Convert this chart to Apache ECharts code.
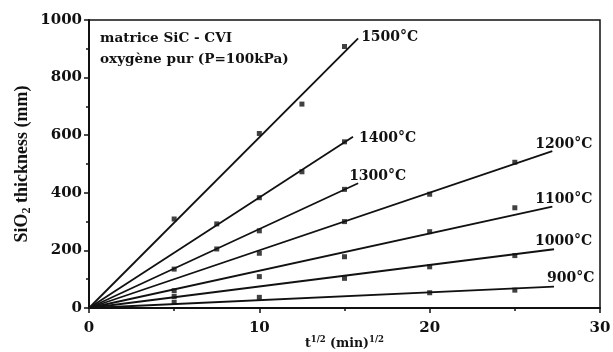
<!DOCTYPE html>
<html>
<head>
<meta charset="utf-8">
<script src="https://cdn.jsdelivr.net/npm/echarts@6/dist/echarts.min.js"></script>
<style>
html, body { margin: 0; padding: 0; background: #fff; }
#chart { width: 613px; height: 352px; }
</style>
</head>
<body>
<div id="chart"></div>
<script>
// temperatures (series names)
var temps = ['1500°C', '1400°C', '1300°C', '1200°C', '1100°C', '1000°C', '900°C'];

// measured points, x = t^1/2, y = SiO2 thickness
var p1500x = [5, 10, 12.5, 15];
var p1500y = [309, 606, 708, 908];
var p1400x = [7.5, 10, 12.5, 15];
var p1400y = [292, 383, 473, 577];
var p1300x = [5, 7.5, 10, 15];
var p1300y = [135, 205, 268, 412];
var p1200x = [10, 15, 20, 25];
var p1200y = [190, 300, 395, 506];
var p1100x = [5, 10, 15, 20, 25];
var p1100y = [60, 109, 178, 265, 348];
var p1000x = [5, 15, 20, 25];
var p1000y = [40, 103, 143, 182];
var p900x = [5, 10, 20, 25];
var p900y = [20, 37, 53, 62];

// fitted lines, from origin to end point
var fitEndX = [15.8, 15.5, 15.8, 27.2, 27.2, 27.3, 27.3];
var fitEndY = [936, 595, 433, 545, 352, 204, 74];

// axis ticks
var xTicks = [0, 10, 20, 30];
var yTicks = [0, 200, 400, 600, 800, 1000];

var pointsX = [p1500x, p1400x, p1300x, p1200x, p1100x, p1000x, p900x];
var pointsY = [p1500y, p1400y, p1300y, p1200y, p1100y, p1000y, p900y];

// label nudges (style only)
var labelShift = [[-2, -1], [1, 2], [-14, -7], [-22, -7], [-22, -7], [-24, -8], [-12, -8]];

var wideFont = 'DejaVu Serif';
var narrowFont = 'Liberation Serif';

var chart = echarts.init(document.getElementById('chart'));

var series = [];
for (var i = 0; i < temps.length; i++) {
    var pts = [];
    for (var j = 0; j < pointsX[i].length; j++) {
        pts.push([pointsX[i][j], pointsY[i][j]]);
    }
    series.push({
        name: temps[i] + ' pts',
        type: 'scatter',
        data: pts,
        symbol: 'rect',
        symbolSize: 5,
        itemStyle: { color: '#111' },
        z: 3
    });
    series.push({
        name: temps[i],
        type: 'line',
        data: [
            [0, 0],
            {
                value: [fitEndX[i], fitEndY[i]],
                label: {
                    show: true,
                    position: 'right',
                    distance: 5,
                    offset: labelShift[i],
                    formatter: temps[i],
                    color: '#111',
                    fontFamily: wideFont,
                    fontWeight: 'bold',
                    fontSize: 14
                }
            }
        ],
        showSymbol: true,
        symbol: 'circle',
        symbolSize: 0,
        lineStyle: { color: '#111', width: 1.8 },
        itemStyle: { color: '#111' },
        silent: true,
        z: 2
    });
}

var option = {
    animation: false,
    backgroundColor: '#fff',
    grid: {
        left: 89, right: 13, top: 20, bottom: 44,
        outerBoundsMode: 'none',
        containLabel: false,
        show: true,
        borderColor: '#111',
        borderWidth: 1.5
    },
    graphic: [{
        type: 'text',
        left: 100,
        top: 28,
        style: {
            text: 'matrice SiC - CVI\noxygène pur (P=100kPa)',
            fill: '#111',
            font: 'bold 13.6px "DejaVu Serif"',
            lineHeight: 21
        }
    }],
    xAxis: {
        type: 'value',
        min: 0, max: 30, interval: 10,
        name: '{b|t}{s|1/2}{b| (min)}{s|1/2}',
        nameLocation: 'middle',
        nameGap: 27,
        nameMoveOverlap: false,
        nameTextStyle: {
            rich: {
                b: { fontFamily: wideFont, fontWeight: 'bold', fontSize: 12.5, color: '#111' },
                s: { fontFamily: wideFont, fontWeight: 'bold', fontSize: 8.5, color: '#111', padding: [0, 0, 8, 0] }
            }
        },
        axisLine: { show: true, lineStyle: { color: '#111', width: 2 } },
        axisTick: { show: true, inside: false, length: 5, lineStyle: { color: '#111', width: 1.5 } },
        minorTick: { show: true, splitNumber: 2, length: 3, lineStyle: { color: '#111', width: 1.5 } },
        splitLine: { show: false },
        axisLabel: {
            margin: 13,
            color: '#111',
            fontFamily: wideFont,
            fontWeight: 'bold',
            fontSize: 15,
            formatter: function (v) { return xTicks.indexOf(v) >= 0 ? String(v) : ''; }
        }
    },
    yAxis: {
        type: 'value',
        min: 0, max: 1000, interval: 200,
        name: '{b|SiO}{sub|2}{b| thickness (mm)}',
        nameLocation: 'middle',
        nameGap: 56,
        nameMoveOverlap: false,
        nameTextStyle: {
            rich: {
                b: { fontFamily: narrowFont, fontWeight: 'bold', fontSize: 18, color: '#111' },
                sub: { fontFamily: narrowFont, fontWeight: 'bold', fontSize: 12, color: '#111', padding: [9, 0, 0, 0] }
            }
        },
        axisLine: { show: true, lineStyle: { color: '#111', width: 2 } },
        axisTick: { show: true, inside: false, length: 5, lineStyle: { color: '#111', width: 1.5 } },
        minorTick: { show: true, splitNumber: 2, length: 3, lineStyle: { color: '#111', width: 1.5 } },
        splitLine: { show: false },
        axisLabel: {
            margin: 7,
            color: '#111',
            fontFamily: wideFont,
            fontWeight: 'bold',
            fontSize: 15,
            formatter: function (v) { return yTicks.indexOf(v) >= 0 ? String(v) : ''; }
        }
    },
    series: series
};

chart.setOption(option);
window.addEventListener('resize', function () {
    chart.resize();
});
</script>
</body>
</html>
